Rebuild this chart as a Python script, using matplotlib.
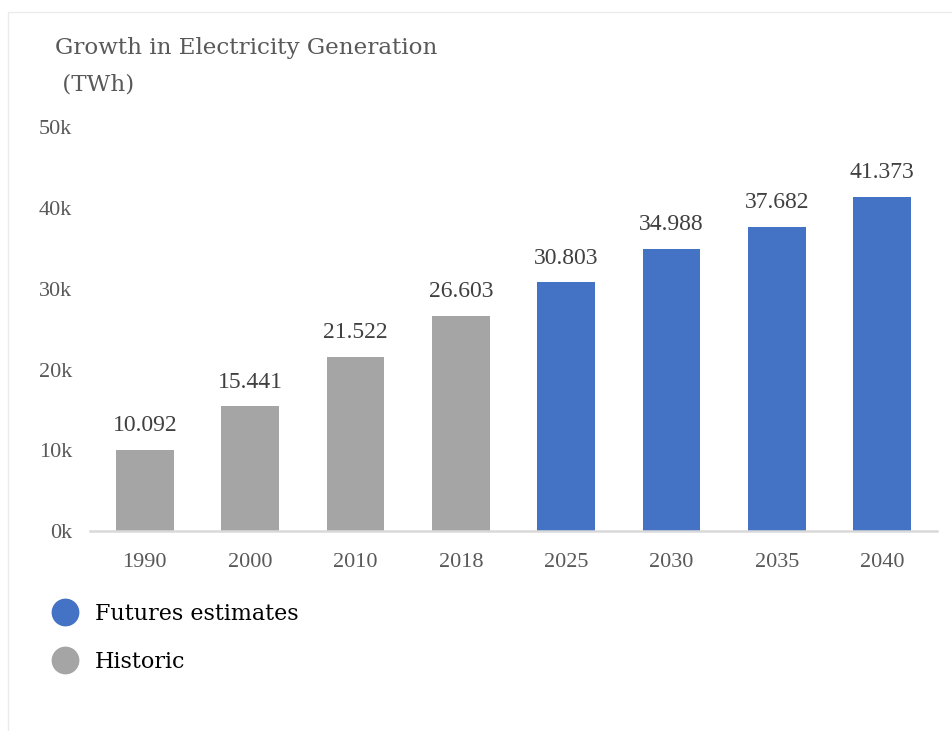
import matplotlib.pyplot as plt
from matplotlib.patches import Rectangle
from matplotlib.lines import Line2D

years = ["1990", "2000", "2010", "2018", "2025", "2030", "2035", "2040"]
generation = [10092, 15441, 21522, 26603, 30803, 34988, 37682, 41373]
is_estimate = [False, False, False, False, True, True, True, True]
legend_labels = ["Futures estimates", "Historic"]

blue = "#4472C4"
grey = "#A5A5A5"
serif = ["Liberation Serif", "DejaVu Serif"]
wide_serif = ["DejaVu Serif", "Liberation Serif"]

fig = plt.figure(figsize=(9.52, 7.31), dpi=100)
ax = fig.add_axes([90 / 952, 1 - 531 / 731, 847 / 952, 403.5 / 731])

colors = [blue if e else grey for e in is_estimate]
x = list(range(len(years)))
bars = ax.bar(x, generation, width=0.55, color=colors, zorder=2)

for xi, v in zip(x, generation):
    ax.annotate("{:.3f}".format(v / 1000), (xi, v), xytext=(0, 10),
                textcoords="offset points", ha="center", va="bottom",
                fontsize=17, color="#404040", family=serif)

ax.set_xlim(-0.52, 7.52)
ax.set_ylim(0, 50000)
ax.set_xticks(x)
ax.set_xticklabels(years)
ax.set_yticks([0, 10000, 20000, 30000, 40000, 50000])
ax.set_yticklabels(["0k", "10k", "20k", "30k", "40k", "50k"])
for lab in ax.get_xticklabels() + ax.get_yticklabels():
    lab.set_family(serif)
    lab.set_fontsize(16)
    lab.set_color("#595959")
ax.tick_params(axis="both", length=0)
ax.tick_params(axis="x", pad=16)
ax.tick_params(axis="y", pad=13)
for s in ["top", "right", "left"]:
    ax.spines[s].set_visible(False)
ax.spines["bottom"].set_color("#D9D9D9")
ax.spines["bottom"].set_linewidth(1.8)

# title
fig.text(55 / 952, 1 - 48 / 731, "Growth in Electricity Generation", fontsize=16.6,
         color="#595959", family=wide_serif, va="center", ha="left")
fig.text(55 / 952, 1 - 84 / 731, " (TWh)", fontsize=16.6,
         color="#595959", family=wide_serif, va="center", ha="left")

# legend
handles = [Line2D([], [], marker="o", linestyle="none", markersize=19,
                  markerfacecolor=blue, markeredgecolor=blue),
           Line2D([], [], marker="o", linestyle="none", markersize=19,
                  markerfacecolor=grey, markeredgecolor=grey)]
fig.legend(handles, legend_labels, loc="upper left",
           bbox_to_anchor=(29 / 952, 1 - 583 / 731), frameon=False,
           prop={"family": wide_serif, "size": 16}, handletextpad=0.65,
           labelspacing=1.16, handlelength=1.4)

# faint frame
fig.patches.append(Rectangle((8 / 952, -0.01), 1.0, 1 - 12 / 731 + 0.01,
                             transform=fig.transFigure, fill=False,
                             edgecolor="#EBEBEB", linewidth=1.0))

fig.savefig("out.png", dpi=100)
